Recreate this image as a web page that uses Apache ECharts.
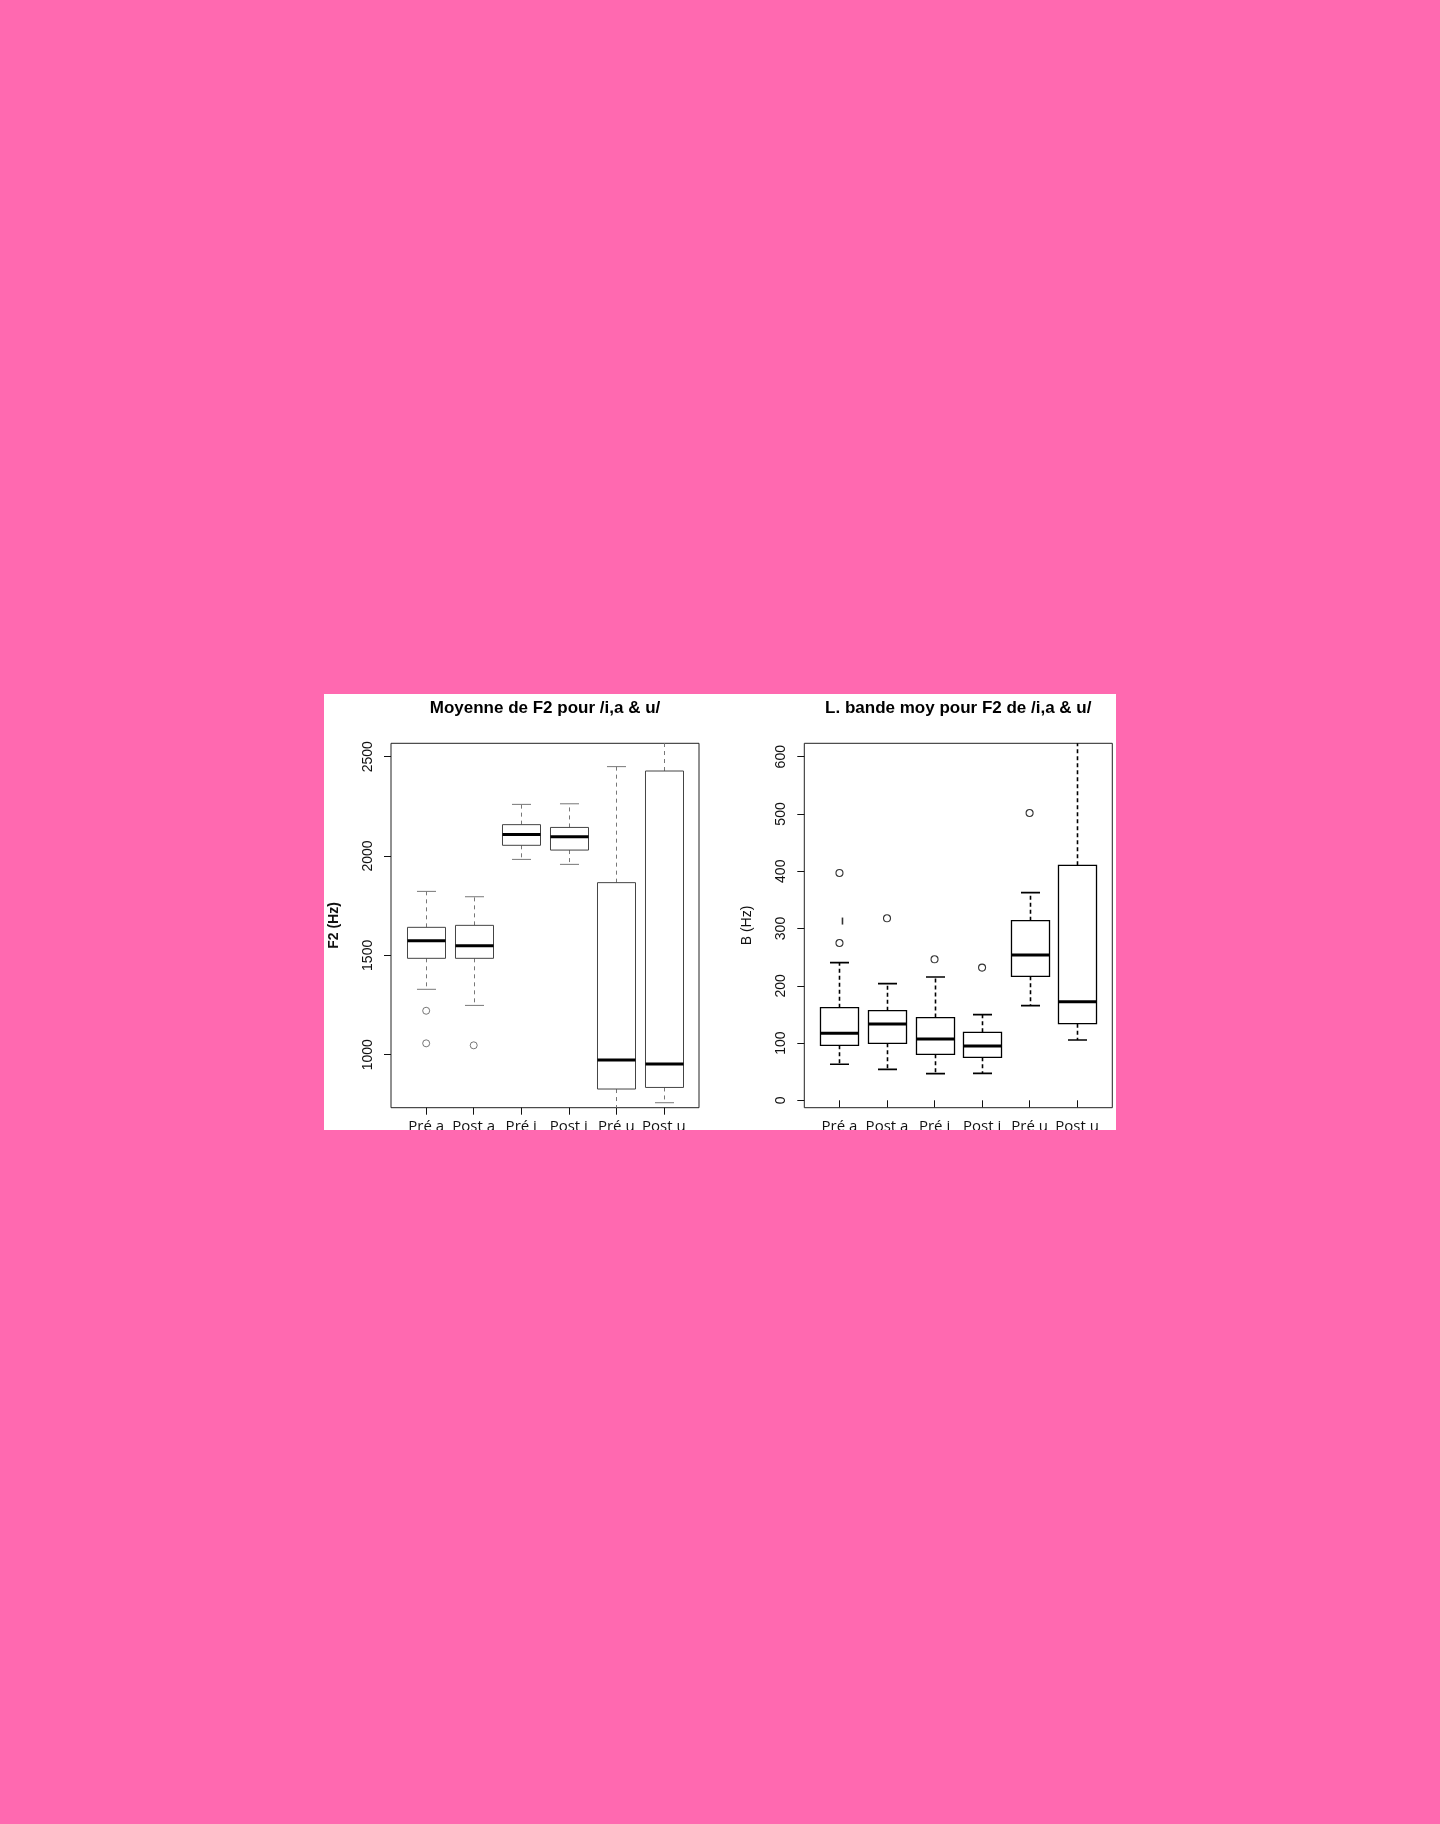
<!DOCTYPE html>
<html>
<head>
<meta charset="utf-8">
<script src="https://cdn.jsdelivr.net/npm/echarts@6/dist/echarts.min.js"></script>
<style>
  html, body { margin: 0; padding: 0; background: #ff69b0; }
  body { width: 1440px; height: 1824px; position: relative; overflow: hidden; }
  #panel { position: absolute; left: 324px; top: 694px; width: 792px; height: 436px; background: #fff; overflow: hidden; }
  #chart { position: absolute; left: 0; top: 0; width: 792px; height: 470px; }
</style>
</head>
<body>
<div id="panel"><div id="chart"></div></div>
<script>
// ---------- data ----------
const categories = ['Pré a', 'Post a', 'Pré i', 'Post i', 'Pré u', 'Post u'];

// F2 (Hz) — "Moyenne de F2 pour /i,a & u/"
const f2Low    = [1329, 1248, 1983, 1958, 720, 758];
const f2Q1     = [1485, 1485, 2054, 2030, 827, 835];
const f2Median = [1574, 1548, 2109, 2097, 973, 953];
const f2Q3     = [1641, 1651, 2158, 2144, 1866, 2428];
const f2High   = [1822, 1795, 2260, 2263, 2450, 2700];
const f2Outliers = [[0, 1221], [0, 1057], [1, 1047]];
const f2Ticks = [1000, 1500, 2000, 2500];

// B (Hz) — "L. bande moy pour F2 de /i,a & u/"
const bLow    = [62.9, 54.1, 46.6, 47.1, 165.3, 105.4];
const bQ1     = [96, 99.5, 80.3, 75.1, 216.5, 133.9];
const bMedian = [117, 133.3, 107.1, 94.9, 253.8, 172.3];
const bQ3     = [161.8, 156.6, 144.4, 118.7, 313.7, 410.4];
const bHigh   = [240.4, 203.7, 215.4, 149.6, 362.6, 650];
const bOutliers = [[0, 397], [0, 274.7], [1, 317.8], [2, 246.2], [3, 231.7], [4, 501.7]];
const bStrayMarks = [[0, 313]];
const bTicks = [0, 100, 200, 300, 400, 500, 600];

const titles = ['Moyenne de F2 pour /i,a & u/', 'L. bande moy pour F2 de /i,a & u/'];
const yNames = ['F2 (Hz)', 'B (Hz)'];

// ---------- helpers ----------
function rows(lo, q1, md, q3, hi) {
  return categories.map((c, i) => [i, lo[i], q1[i], md[i], q3[i], hi[i]]);
}

function boxRenderer(st) {
  return function (params, api) {
    const idx = api.value(0);
    const lo = api.coord([idx, api.value(1)]);
    const q1 = api.coord([idx, api.value(2)]);
    const md = api.coord([idx, api.value(3)]);
    const q3 = api.coord([idx, api.value(4)]);
    const hi = api.coord([idx, api.value(5)]);
    const band = api.size([1, 0])[0];
    const bw = band * 0.8, cw = bw * 0.5;
    const x = Math.round(lo[0]) + 0.5;
    const dashStyle = { stroke: st.whisker, lineWidth: st.wWidth, lineDash: st.dash, fill: null };
    const capStyle = { stroke: st.whisker, lineWidth: st.wWidth, fill: null };
    return {
      type: 'group',
      children: [
        { type: 'line', shape: { x1: x, y1: q3[1], x2: x, y2: hi[1] }, style: dashStyle },
        { type: 'line', shape: { x1: x, y1: q1[1], x2: x, y2: lo[1] }, style: dashStyle },
        { type: 'line', shape: { x1: x - cw / 2, y1: hi[1], x2: x + cw / 2, y2: hi[1] }, style: capStyle },
        { type: 'line', shape: { x1: x - cw / 2, y1: lo[1], x2: x + cw / 2, y2: lo[1] }, style: capStyle },
        { type: 'rect', shape: { x: x - bw / 2, y: q3[1], width: bw, height: q1[1] - q3[1] },
          style: { fill: '#fff', stroke: st.box, lineWidth: st.bWidth } },
        { type: 'line', shape: { x1: x - bw / 2, y1: md[1], x2: x + bw / 2, y2: md[1] },
          style: { stroke: '#000', lineWidth: st.mWidth } }
      ]
    };
  };
}

// ---------- layout ----------
const frameTop = 49.3, frameH = 364.4, frameW = 308;
const frames = [67, 480.3];
const pad = frameW / 6.48 * 0.24;

const grids = [], xAxes = [], yAxes = [], series = [], titleArr = [];
const ranges = [[733, 2567.5], [-12.9, 623.4]];
const tickSets = [f2Ticks, bTicks];
const styles = [
  { box: '#444', whisker: '#777', bWidth: 1, wWidth: 1, mWidth: 3, dash: [4, 4], sym: '#555', symW: 1 },
  { box: '#000', whisker: '#000', bWidth: 1.3, wWidth: 1.6, mWidth: 3, dash: [4, 3], sym: '#000', symW: 1.1 }
];
const dataSets = [
  rows(f2Low, f2Q1, f2Median, f2Q3, f2High),
  rows(bLow, bQ1, bMedian, bQ3, bHigh)
];
const outlierSets = [f2Outliers, bOutliers];

frames.forEach((fl, k) => {
  // frame grid (box around plot)
  grids.push({ left: fl, top: frameTop, width: frameW, height: frameH, show: true,
    borderColor: '#222', borderWidth: 1, backgroundColor: 'transparent', containLabel: false });
  xAxes.push({ type: 'value', gridIndex: 2 * k, show: false, min: 0, max: 1 });
  yAxes.push({ type: 'value', gridIndex: 2 * k, show: false, min: 0, max: 1 });
  // inner grid (categories)
  grids.push({ left: fl + pad, top: frameTop, width: frameW - 2 * pad, height: frameH, containLabel: false });
  xAxes.push({
    type: 'category', gridIndex: 2 * k + 1, data: categories, boundaryGap: true,
    axisLine: { show: false },
    axisTick: { show: true, alignWithLabel: true, length: 7, lineStyle: { color: '#111', width: 1 } },
    axisLabel: { interval: 0, margin: 12, fontFamily: 'Open Sans', fontSize: 15, color: '#111' },
    splitLine: { show: false }
  });
  yAxes.push({
    type: 'value', gridIndex: 2 * k + 1, min: ranges[k][0], max: ranges[k][1], offset: pad,
    name: yNames[k], nameLocation: 'middle', nameRotate: 90, nameGap: 50,
    nameTextStyle: { fontFamily: 'Liberation Sans', fontSize: 14, color: '#111', fontWeight: k === 0 ? 'bold' : 'normal' },
    axisLine: { show: false },
    axisTick: { show: true, length: 7, customValues: tickSets[k], lineStyle: { color: '#111', width: 1 } },
    axisLabel: { rotate: 90, margin: 16, customValues: tickSets[k], formatter: v => String(v),
      fontFamily: 'Liberation Sans', fontSize: 14, color: '#111' },
    splitLine: { show: false }
  });
  series.push({
    type: 'custom', xAxisIndex: 2 * k + 1, yAxisIndex: 2 * k + 1, clip: true,
    renderItem: boxRenderer(styles[k]), encode: { x: 0, y: [1, 2, 3, 4, 5] },
    data: dataSets[k], silent: true
  });
  series.push({
    type: 'scatter', xAxisIndex: 2 * k + 1, yAxisIndex: 2 * k + 1,
    data: outlierSets[k], symbol: 'circle', symbolSize: 7,
    itemStyle: { color: '#fff', borderColor: styles[k].sym, borderWidth: styles[k].symW }, silent: true
  });
  titleArr.push({
    text: titles[k], left: fl + frameW / 2, top: 6, textAlign: 'center', padding: 0,
    textStyle: { fontFamily: 'Liberation Sans', fontSize: 17, fontWeight: 'bold', color: '#000' }
  });
});

series.push({
  type: 'scatter', xAxisIndex: 3, yAxisIndex: 3, data: bStrayMarks,
  symbol: 'rect', symbolSize: [1.6, 7], symbolOffset: [3, 0],
  itemStyle: { color: '#000' }, silent: true
});

const chart = echarts.init(document.getElementById('chart'), null, { renderer: 'canvas' });
chart.setOption({
  animation: false,
  backgroundColor: 'transparent',
  title: titleArr,
  grid: grids,
  xAxis: xAxes,
  yAxis: yAxes,
  series: series
});
</script>
</body>
</html>
